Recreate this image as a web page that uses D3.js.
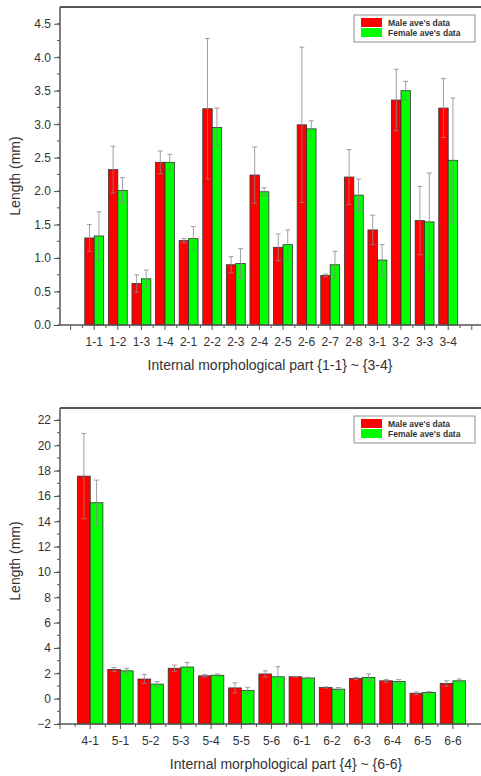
<!DOCTYPE html>
<html>
<head>
<meta charset="utf-8">
<script src="https://cdn.jsdelivr.net/npm/d3@7"></script>
<style>
  body { margin: 0; background: #fff; }
  text { font-family: "Liberation Sans", Arial, sans-serif; fill: #333; }
</style>
</head>
<body>
<svg id="chart" width="481" height="776"></svg>
<script>
// top panel data
const topParts = ["1-1","1-2","1-3","1-4","2-1","2-2","2-3","2-4","2-5","2-6","2-7","2-8","3-1","3-2","3-3","3-4"];
const topMale = [1.30, 2.32, 0.62, 2.43, 1.26, 3.23, 0.90, 2.24, 1.16, 2.99, 0.74, 2.21, 1.42, 3.36, 1.56, 3.24];
const topMaleErr = [0.20, 0.35, 0.13, 0.17, 0.03, 1.05, 0.12, 0.42, 0.20, 1.16, 0.02, 0.41, 0.22, 0.46, 0.51, 0.44];
const topFemale = [1.33, 2.01, 0.69, 2.43, 1.29, 2.95, 0.92, 1.99, 1.20, 2.93, 0.90, 1.94, 0.97, 3.50, 1.54, 2.46];
const topFemaleErr = [0.36, 0.19, 0.13, 0.12, 0.18, 0.29, 0.22, 0.06, 0.22, 0.12, 0.20, 0.24, 0.23, 0.14, 0.73, 0.93];
const topTicks = [0, 0.5, 1.0, 1.5, 2.0, 2.5, 3.0, 3.5, 4.0, 4.5];

// bottom panel data
const botParts = ["4-1","5-1","5-2","5-3","5-4","5-5","5-6","6-1","6-2","6-3","6-4","6-5","6-6"];
const botMale = [17.57, 2.30, 1.55, 2.40, 1.80, 0.85, 1.95, 1.73, 0.88, 1.60, 1.41, 0.43, 1.20];
const botMaleErr = [3.37, 0.15, 0.35, 0.25, 0.10, 0.40, 0.25, 0.03, 0.05, 0.08, 0.11, 0.10, 0.21];
const botFemale = [15.47, 2.20, 1.15, 2.50, 1.85, 0.65, 1.73, 1.63, 0.75, 1.68, 1.36, 0.48, 1.41];
const botFemaleErr = [1.79, 0.20, 0.20, 0.35, 0.10, 0.25, 0.80, 0.05, 0.13, 0.27, 0.16, 0.08, 0.14];
const botTicks = [-2, 0, 2, 4, 6, 8, 10, 12, 14, 16, 18, 20, 22];

const seriesNames = ["Male ave's data", "Female ave's data"];
const colors = ["#ff0000", "#00ff00"];

const svg = d3.select("#chart");

function drawPanel(o) {
  const g = svg.append("g");
  const x = d3.scaleLinear().domain(o.xDomain).range([60, 481]);
  const y = d3.scaleLinear().domain(o.yDomain).range([o.bottom, o.top]);
  const step = x(1) - x(0);
  const bw = step * o.barFrac;
  const base = o.yDomain[0];

  // minor ticks on y
  const minor = d3.range(o.yDomain[0], o.yDomain[1], o.minorStep);
  g.selectAll(".ym").data(minor).join("line")
    .attr("x1", 57).attr("x2", 60)
    .attr("y1", d => y(d)).attr("y2", d => y(d))
    .attr("stroke", "#555");

  const yAxis = d3.axisLeft(y).tickValues(o.yTicks).tickFormat(o.fmt).tickSize(6).tickPadding(3);
  const ya = g.append("g").attr("transform", "translate(60,0)").call(yAxis);
  ya.select(".domain").remove();
  ya.selectAll("line").attr("stroke", "#555");
  ya.selectAll("text").style("font-size", "12px").attr("fill", "#333");

  // x minor ticks
  const xm = d3.range(Math.ceil(o.xDomain[0] * 2) / 2, o.xDomain[1], 0.5);
  g.selectAll(".xm").data(xm).join("line")
    .attr("x1", d => x(d)).attr("x2", d => x(d))
    .attr("y1", o.bottom).attr("y2", d => o.bottom + (Number.isInteger(d) ? 5 : 3))
    .attr("stroke", "#555");

  // bars
  const series = [o.male, o.female];
  const errs = [o.maleErr, o.femaleErr];
  series.forEach((vals, s) => {
    g.selectAll(".bar" + s).data(vals).join("rect")
      .attr("x", (d, i) => s === 0 ? x(i) - bw : x(i))
      .attr("y", d => y(d))
      .attr("width", bw)
      .attr("height", d => y(base) - y(d))
      .attr("fill", colors[s])
      .attr("stroke", "#333")
      .attr("stroke-width", 0.8);
  });

  // error bars
  series.forEach((vals, s) => {
    const cx = i => s === 0 ? x(i) - bw / 2 : x(i) + bw / 2;
    const eg = g.append("g").attr("stroke", "#888").attr("stroke-width", 0.8);
    vals.forEach((v, i) => {
      const hi = v + errs[s][i];
      const lo = Math.max(base, v - errs[s][i]);
      eg.append("line").attr("x1", cx(i)).attr("x2", cx(i)).attr("y1", y(hi)).attr("y2", y(lo));
      [hi, lo].forEach(e => {
        eg.append("line").attr("x1", cx(i) - 2.5).attr("x2", cx(i) + 2.5)
          .attr("y1", y(e)).attr("y2", y(e));
      });
    });
  });

  // x labels
  g.selectAll(".xl").data(o.parts).join("text")
    .attr("x", (d, i) => x(i)).attr("y", o.bottom + 21)
    .attr("text-anchor", "middle").style("font-size", "12px")
    .text(d => d);

  // frame lines
  g.append("line").attr("x1", 60).attr("x2", 60).attr("y1", o.top).attr("y2", o.bottom)
    .attr("stroke", "#555").attr("stroke-width", 1.5);
  g.append("line").attr("x1", 60).attr("x2", 481).attr("y1", o.bottom).attr("y2", o.bottom)
    .attr("stroke", "#555").attr("stroke-width", 1.5);
  g.append("line").attr("x1", 60).attr("x2", 481).attr("y1", o.top).attr("y2", o.top)
    .attr("stroke", "#555").attr("stroke-width", 2);

  // axis titles
  g.append("text")
    .attr("transform", `translate(20,${o.yTitleY}) rotate(-90)`)
    .attr("text-anchor", "middle").style("font-size", "14px")
    .text("Length (mm)");
  g.append("text")
    .attr("x", o.xTitleX).attr("y", o.bottom + 45)
    .attr("text-anchor", "middle").style("font-size", "14px")
    .text(o.xTitle);

  // legend
  const lg = g.append("g").attr("transform", `translate(354,${o.top + 8})`);
  lg.append("rect").attr("width", 121).attr("height", 27)
    .attr("fill", "#fff").attr("stroke", "#777").attr("stroke-width", 0.8);
  seriesNames.forEach((n, k) => {
    lg.append("rect").attr("x", 7).attr("y", 3 + k * 10).attr("width", 21).attr("height", 9)
      .attr("fill", colors[k]);
    lg.append("text").attr("x", 34).attr("y", 11 + k * 10)
      .style("font-size", "8.5px").style("font-weight", "bold")
      .text(n);
  });
}

drawPanel({
  parts: topParts, male: topMale, maleErr: topMaleErr, female: topFemale, femaleErr: topFemaleErr,
  xDomain: [-1.45, 16.39], yDomain: [0, 4.75], top: 7, bottom: 325,
  yTicks: topTicks, minorStep: 0.25, fmt: d3.format(".1f"), barFrac: 0.40,
  yTitleY: 176, xTitle: "Internal morphological part {1-1} ~ {3-4}", xTitleX: 270
});

drawPanel({
  parts: botParts, male: botMale, maleErr: botMaleErr, female: botFemale, femaleErr: botFemaleErr,
  xDomain: [-1.0, 12.93], yDomain: [-2, 22.95], top: 408, bottom: 724,
  yTicks: botTicks, minorStep: 1, fmt: d3.format("d"), barFrac: 0.42,
  yTitleY: 561, xTitle: "Internal morphological part {4} ~ {6-6}", xTitleX: 286
});
</script>
</body>
</html>
